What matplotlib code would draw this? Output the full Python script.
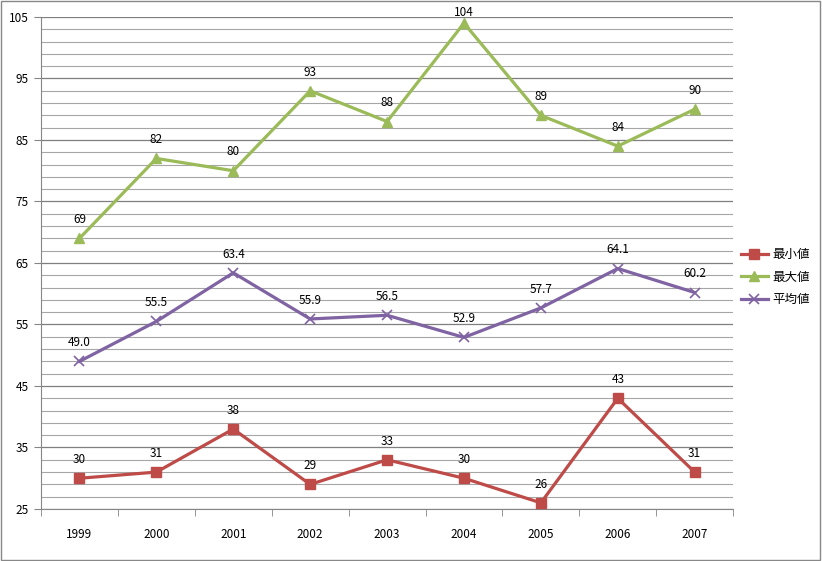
import matplotlib.pyplot as plt
from matplotlib.ticker import FixedLocator

plt.rcParams['font.family'] = ['Noto Sans CJK JP', 'DejaVu Sans']

years = ['1999', '2000', '2001', '2002', '2003', '2004', '2005', '2006', '2007']
min_vals = [30, 31, 38, 29, 33, 30, 26, 43, 31]
max_vals = [69, 82, 80, 93, 88, 104, 89, 84, 90]
avg_vals = [49.0, 55.5, 63.4, 55.9, 56.5, 52.9, 57.7, 64.1, 60.2]

fig = plt.figure(figsize=(8.22, 5.61), dpi=100)
fig.patches.append(plt.Rectangle((0.001, 0.001), 0.997, 0.997, transform=fig.transFigure,
                                 fill=False, edgecolor='#888888', linewidth=1))
ax = fig.add_axes([0.0499, 0.0927, 0.842, 0.877])

x = list(range(len(years)))
series = [
    ('最小値', min_vals, '#BE4B48', 's', 7, '{:.0f}'),
    ('最大値', max_vals, '#9BBB59', '^', 7, '{:.0f}'),
    ('平均値', avg_vals, '#7F63A2', 'x', 7, '{:.1f}'),
]
for name, vals, col, mk, ms, fmt in series:
    ax.plot(x, vals, color=col, linewidth=2.3, marker=mk, markersize=ms,
            markeredgewidth=1 if mk != 'x' else 1.2, label=name, zorder=3)
    for xi, v in zip(x, vals):
        # excel squeezes the label down when it would hit the top
        off = 8 if v > 102 else 13.5
        ax.annotate(fmt.format(v), (xi, v), xytext=(0, off), textcoords='offset points',
                    ha='center', va='center', fontsize=8.5, color='black')

ax.set_xlim(-0.5, len(years) - 0.5)
ax.set_ylim(25, 105)
ax.yaxis.set_major_locator(FixedLocator(list(range(25, 106, 10))))
ax.yaxis.set_minor_locator(FixedLocator(list(range(25, 106, 2))))
ax.grid(which='major', axis='y', color='#7f7f7f', linewidth=0.9)
ax.grid(which='minor', axis='y', color='#a6a6a6', linewidth=0.8)
ax.set_axisbelow(True)

ax.set_xticks(x)
ax.set_xticklabels(years)
ax.xaxis.set_minor_locator(FixedLocator([i - 0.5 for i in range(len(years) + 1)]))
ax.tick_params(axis='x', which='major', length=0, pad=14, labelsize=8.5)
ax.tick_params(axis='x', which='minor', length=5, color='#868686', direction='out')
ax.tick_params(axis='y', which='major', length=5, color='#868686', labelsize=8.5, pad=4)
ax.tick_params(axis='y', which='minor', length=0)

for side in ['top', 'right']:
    ax.spines[side].set_visible(False)
for side in ['left', 'bottom']:
    ax.spines[side].set_color('#868686')

ax.legend(loc='center left', bbox_to_anchor=(1.0, 0.4715), frameon=False, fontsize=9,
          handlelength=2.2, handletextpad=0.3, labelspacing=0.75, borderaxespad=0.2)

fig.savefig('out.png', dpi=100)
